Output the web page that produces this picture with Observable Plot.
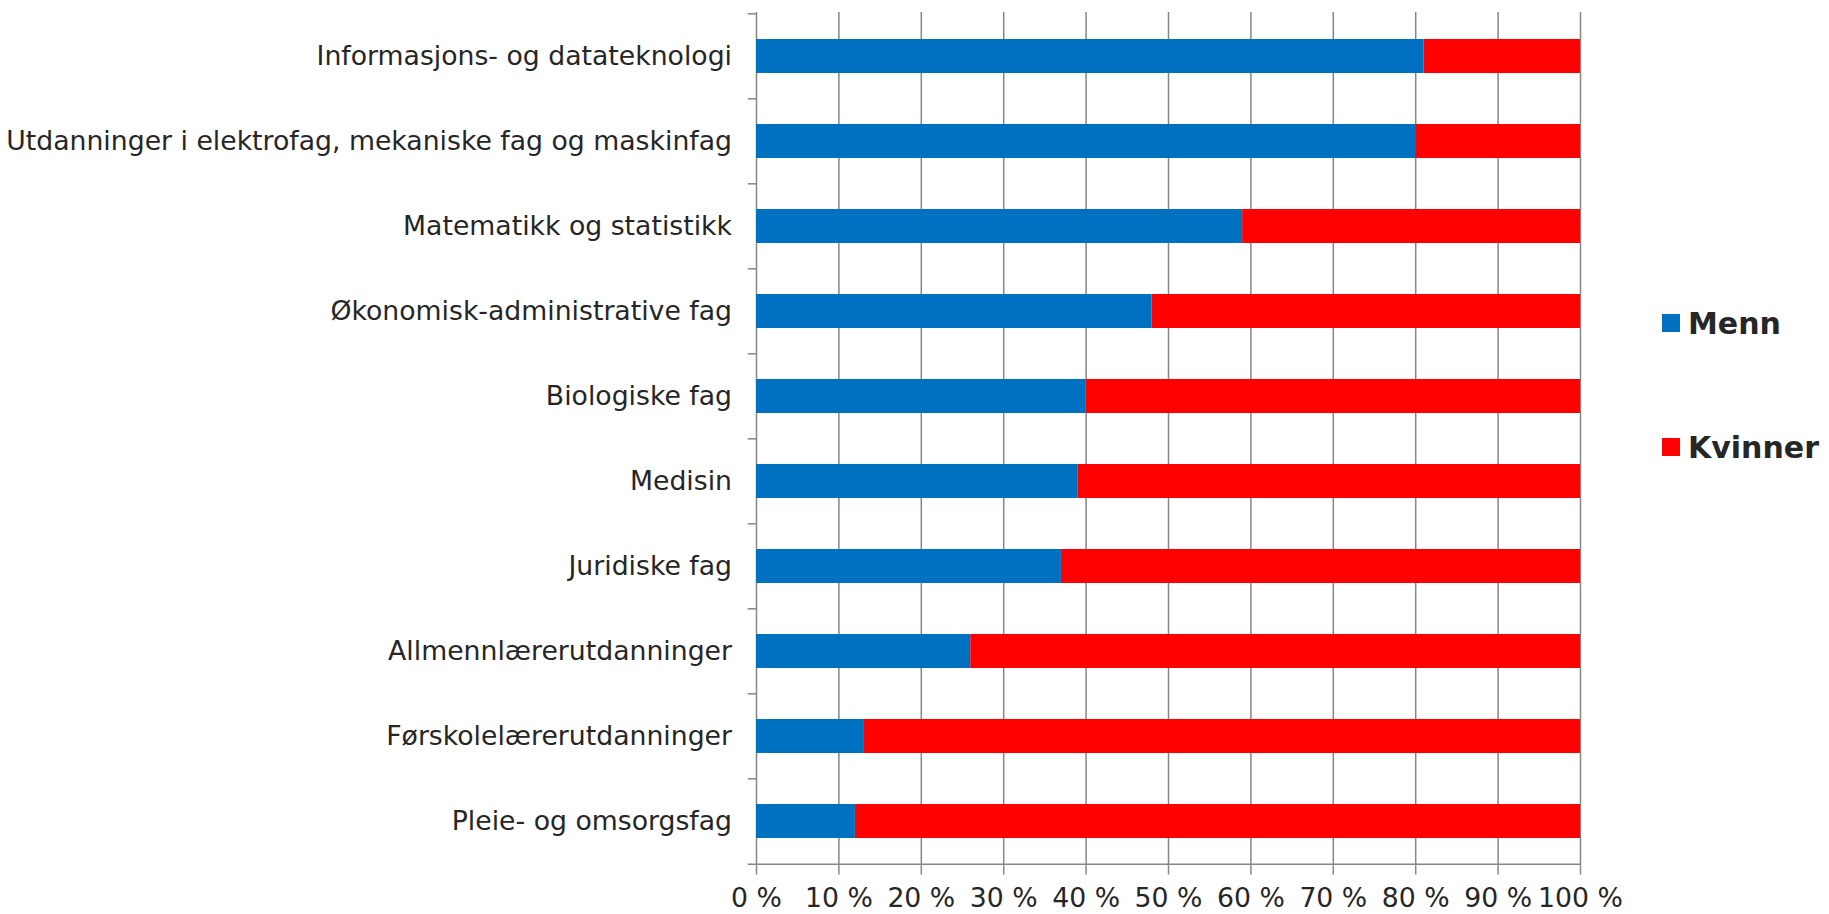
<!DOCTYPE html>
<html><head><meta charset="utf-8">
<script src="https://cdn.jsdelivr.net/npm/d3@7"></script>
<script src="https://cdn.jsdelivr.net/npm/@observablehq/plot@0.6"></script>
<style>
body{margin:0;background:#fff;}
#wrap{position:relative;width:1829px;height:914px;overflow:hidden;}
.leg{position:absolute;left:1662px;height:36px;font:bold 30px "DejaVu Sans";color:#262626;display:flex;align-items:center;white-space:nowrap;}
.sw{width:18px;height:18px;margin-right:8px;flex:none;}
</style></head><body>
<div id="wrap"></div>
<script>
const categories = [
  "Informasjons- og datateknologi",
  "Utdanninger i elektrofag, mekaniske fag og maskinfag",
  "Matematikk og statistikk",
  "Økonomisk-administrative fag",
  "Biologiske fag",
  "Medisin",
  "Juridiske fag",
  "Allmennlærerutdanninger",
  "Førskolelærerutdanninger",
  "Pleie- og omsorgsfag"
];
const menn    = [81, 80, 59, 48, 40, 39, 37, 26, 13, 12];
const kvinner = [19, 20, 41, 52, 60, 61, 63, 74, 87, 88];
const series = ["Menn", "Kvinner"];
const colors = ["#0070C0", "#FF0000"];
const xTicks = [0, 10, 20, 30, 40, 50, 60, 70, 80, 90, 100];

const rows = [
  ...categories.map((c, i) => ({cat: c, sex: "Menn", value: menn[i]})),
  ...categories.map((c, i) => ({cat: c, sex: "Kvinner", value: kvinner[i]}))
];

const W = 1829, H = 914, mt = 12, mb = 48.5, ml = 756, mr = 249;
const step = (H - mt - mb) / categories.length;
const grey = "#868686";
const txt = "#262626";

const chart = Plot.plot({
  width: W, height: H,
  marginTop: mt, marginBottom: mb, marginLeft: ml, marginRight: mr,
  style: {fontFamily: "DejaVu Sans", fontSize: "26.7px", color: txt, background: "#fff", overflow: "visible"},
  x: {domain: [0, 100]},
  y: {domain: categories, paddingInner: 0.6, paddingOuter: 0.3},
  color: {domain: series, range: colors},
  marks: [
    Plot.ruleX(xTicks, {stroke: grey, strokeWidth: 1.5}),
    Plot.barX(rows, Plot.stackX({x: "value", y: "cat", fill: "sex"})),
    Plot.ruleY(categories, {y: d => d, dy: -step / 2, x1: -1, x2: 0, stroke: grey, strokeWidth: 1.5}),
    Plot.ruleY([categories[categories.length - 1]], {y: d => d, dy: step / 2, x1: -1, x2: 100, stroke: grey, strokeWidth: 1.5}),
    Plot.axisX({ticks: xTicks, tickFormat: d => d + " %", tickSize: 9, tickPadding: 13, stroke: grey, strokeWidth: 1.5, fill: txt, label: null}),
    Plot.axisY({tickSize: 0, tickPadding: 24.5, fill: txt, label: null})
  ]
});
const wrap = document.getElementById("wrap");
wrap.appendChild(chart);

const legTops = [305, 429];
series.forEach((s, i) => {
  const d = document.createElement("div");
  d.className = "leg";
  d.style.top = legTops[i] + "px";
  d.innerHTML = `<span class="sw" style="background:${colors[i]}"></span><span>${s}</span>`;
  wrap.appendChild(d);
});
</script>
</body></html>
